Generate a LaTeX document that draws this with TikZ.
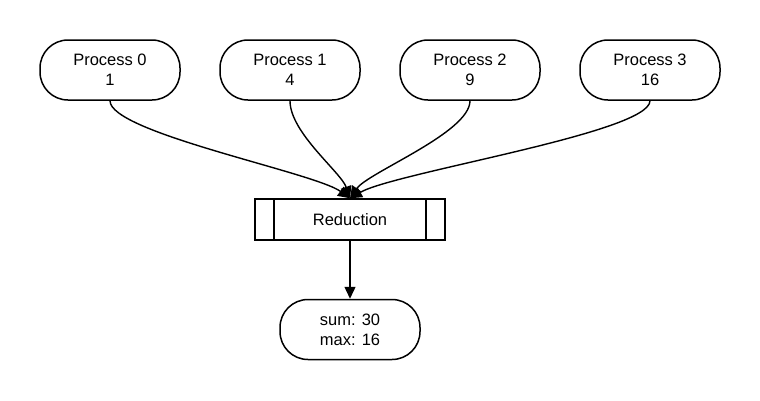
\documentclass[tikz,border=0pt]{standalone}
\usepackage{fontspec}
\setmainfont{Liberation Sans}
\usepackage{tikz}
\usetikzlibrary{arrows.meta,positioning,calc}
\tikzset{
  redproc/.style={draw,rounded corners=28pt,line width=1.5pt,align=center,minimum width=140pt,minimum height=60pt,font=\fontsize{16.5}{20}\selectfont,fill=white},
  redbox/.style={draw,line width=1.5pt,align=center,minimum width=190pt,minimum height=41pt,font=\fontsize{16.5}{20}\selectfont,fill=white},
  redflow/.style={-{Triangle[length=12pt,width=11pt]},line width=1.4pt},
}

\begin{document}
\begin{tikzpicture}[x=1pt,y=-1pt]
\useasboundingbox (0,0) rectangle (760,400);
\foreach \i/\v in {0/1,1/4,2/9,3/16}
  \node[redproc] (p\i) at (110+180*\i,70) {Process \i\\\v};
\node[redbox] (red) at (350,219.5) {Reduction};
\draw[line width=1.8pt] ($(red.north west)+(19.5,0)$) -- ($(red.south west)+(19.5,0)$);
\draw[line width=1.8pt] ($(red.north east)+(-19.5,0)$) -- ($(red.south east)+(-19.5,0)$);
\node[redproc] (res) at (350,329.5) {sum: 30\\max: 16};
% incoming values
\foreach \i in {0,...,3}
  \draw[redflow] (p\i.south) .. controls +(0,32) and +({(110+180*\i-350)*0.15},-26) .. (red.north);
\draw[redflow] (red) -- (res);
\end{tikzpicture}
\end{document}
